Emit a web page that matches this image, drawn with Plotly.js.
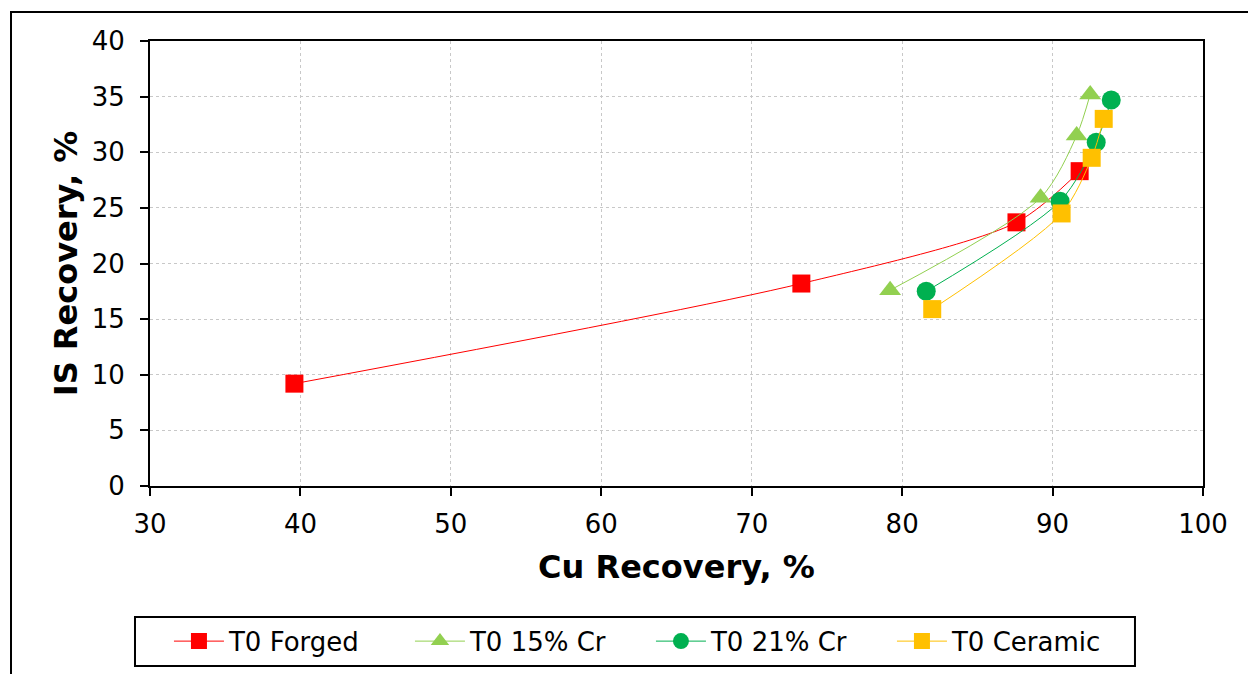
<!DOCTYPE html>
<html>
<head>
<meta charset="utf-8">
<script src="https://cdn.plot.ly/plotly-3.0.1.min.js"></script>
<style>html,body{margin:0;padding:0;background:#fff;}#chart{width:1248px;height:674px;}</style>
</head>
<body>
<div id="chart"></div>
<script>
const forgedX = [39.6, 73.3, 87.6, 91.8];
const forgedY = [9.2, 18.2, 23.7, 28.3];
const cr15X = [79.2, 89.2, 91.6, 92.5];
const cr15Y = [17.6, 25.9, 31.5, 35.2];
const cr21X = [81.6, 90.5, 92.9, 93.9];
const cr21Y = [17.5, 25.6, 30.9, 34.7];
const ceramicX = [82.0, 90.6, 92.6, 93.4];
const ceramicY = [15.9, 24.5, 29.5, 33.0];
const seriesNames = ["T0 Forged", "T0 15% Cr", "T0 21% Cr", "T0 Ceramic"];
const xTicks = [30, 40, 50, 60, 70, 80, 90, 100];
const yTicks = [0, 5, 10, 15, 20, 25, 30, 35, 40];

const FONT = "DejaVu Sans, Verdana, sans-serif";
function tr(x, y, name, color, symbol, size) {
  return {
    x: x, y: y, name: name, type: "scatter", mode: "lines+markers",
    line: {color: color, width: 1, shape: "spline", smoothing: 0.8},
    marker: {color: color, symbol: symbol, size: size}
  };
}
const data = [
  tr(forgedX, forgedY, seriesNames[0], "#FF0000", "square", 18),
  tr(cr15X, cr15Y, seriesNames[1], "#92D050", "triangle-up", 19),
  tr(cr21X, cr21Y, seriesNames[2], "#00B050", "circle", 19),
  tr(ceramicX, ceramicY, seriesNames[3], "#FFC000", "square", 18)
];
const layout = {
  width: 1248, height: 674,
  margin: {l: 150, r: 45, t: 41, b: 188, autoexpand: false},
  paper_bgcolor: "#fff", plot_bgcolor: "#fff",
  font: {family: FONT, color: "#000", size: 26},
  showlegend: true,
  xaxis: {
    range: [30, 100], tickvals: xTicks, ticktext: xTicks.map(String),
    showgrid: true, gridcolor: "#c8c8c8", griddash: "dot", gridwidth: 1,
    showline: true, linecolor: "#000", linewidth: 2, mirror: true,
    ticks: "outside", ticklen: 8, tickwidth: 2, tickcolor: "#000",
    zeroline: false, tickfont: {size: 26, family: FONT}, ticklabelstandoff: 6,
    title: {text: "Cu Recovery, %", font: {size: 32, family: FONT, weight: "bold"}, standoff: 17}
  },
  yaxis: {
    range: [0, 40], tickvals: yTicks, ticktext: yTicks.map(String),
    showgrid: true, gridcolor: "#c8c8c8", griddash: "dot", gridwidth: 1,
    showline: true, linecolor: "#000", linewidth: 2, mirror: true,
    ticks: "outside", ticklen: 8, tickwidth: 2, tickcolor: "#000",
    zeroline: false, tickfont: {size: 26, family: FONT}, ticklabelstandoff: 10,
    title: {text: "IS Recovery, %", font: {size: 32, family: FONT, weight: "bold"}, standoff: 5}
  },
  legend: {
    orientation: "h", x: 0.018, xanchor: "left", y: -0.296, yanchor: "top",
    borderwidth: 0, bgcolor: "rgba(0,0,0,0)",
    font: {size: 26, family: FONT}, itemwidth: 50,
    entrywidth: 176, entrywidthmode: "pixels"
  },
  shapes: [{
    type: "rect", xref: "paper", yref: "paper",
    x0: -0.132, x1: 1.3, y0: -1, y1: 1.0652,
    line: {color: "#000", width: 2}, layer: "below"
  }, {
    type: "rect", xref: "paper", yref: "paper",
    x0: -0.01425, x1: 0.9354, y0: -0.4045, y1: -0.2944,
    line: {color: "#000", width: 2}, fillcolor: "rgba(0,0,0,0)", layer: "above"
  }]
};
Plotly.newPlot("chart", data, layout, {displayModeBar: false, staticPlot: true});
</script>
</body>
</html>
